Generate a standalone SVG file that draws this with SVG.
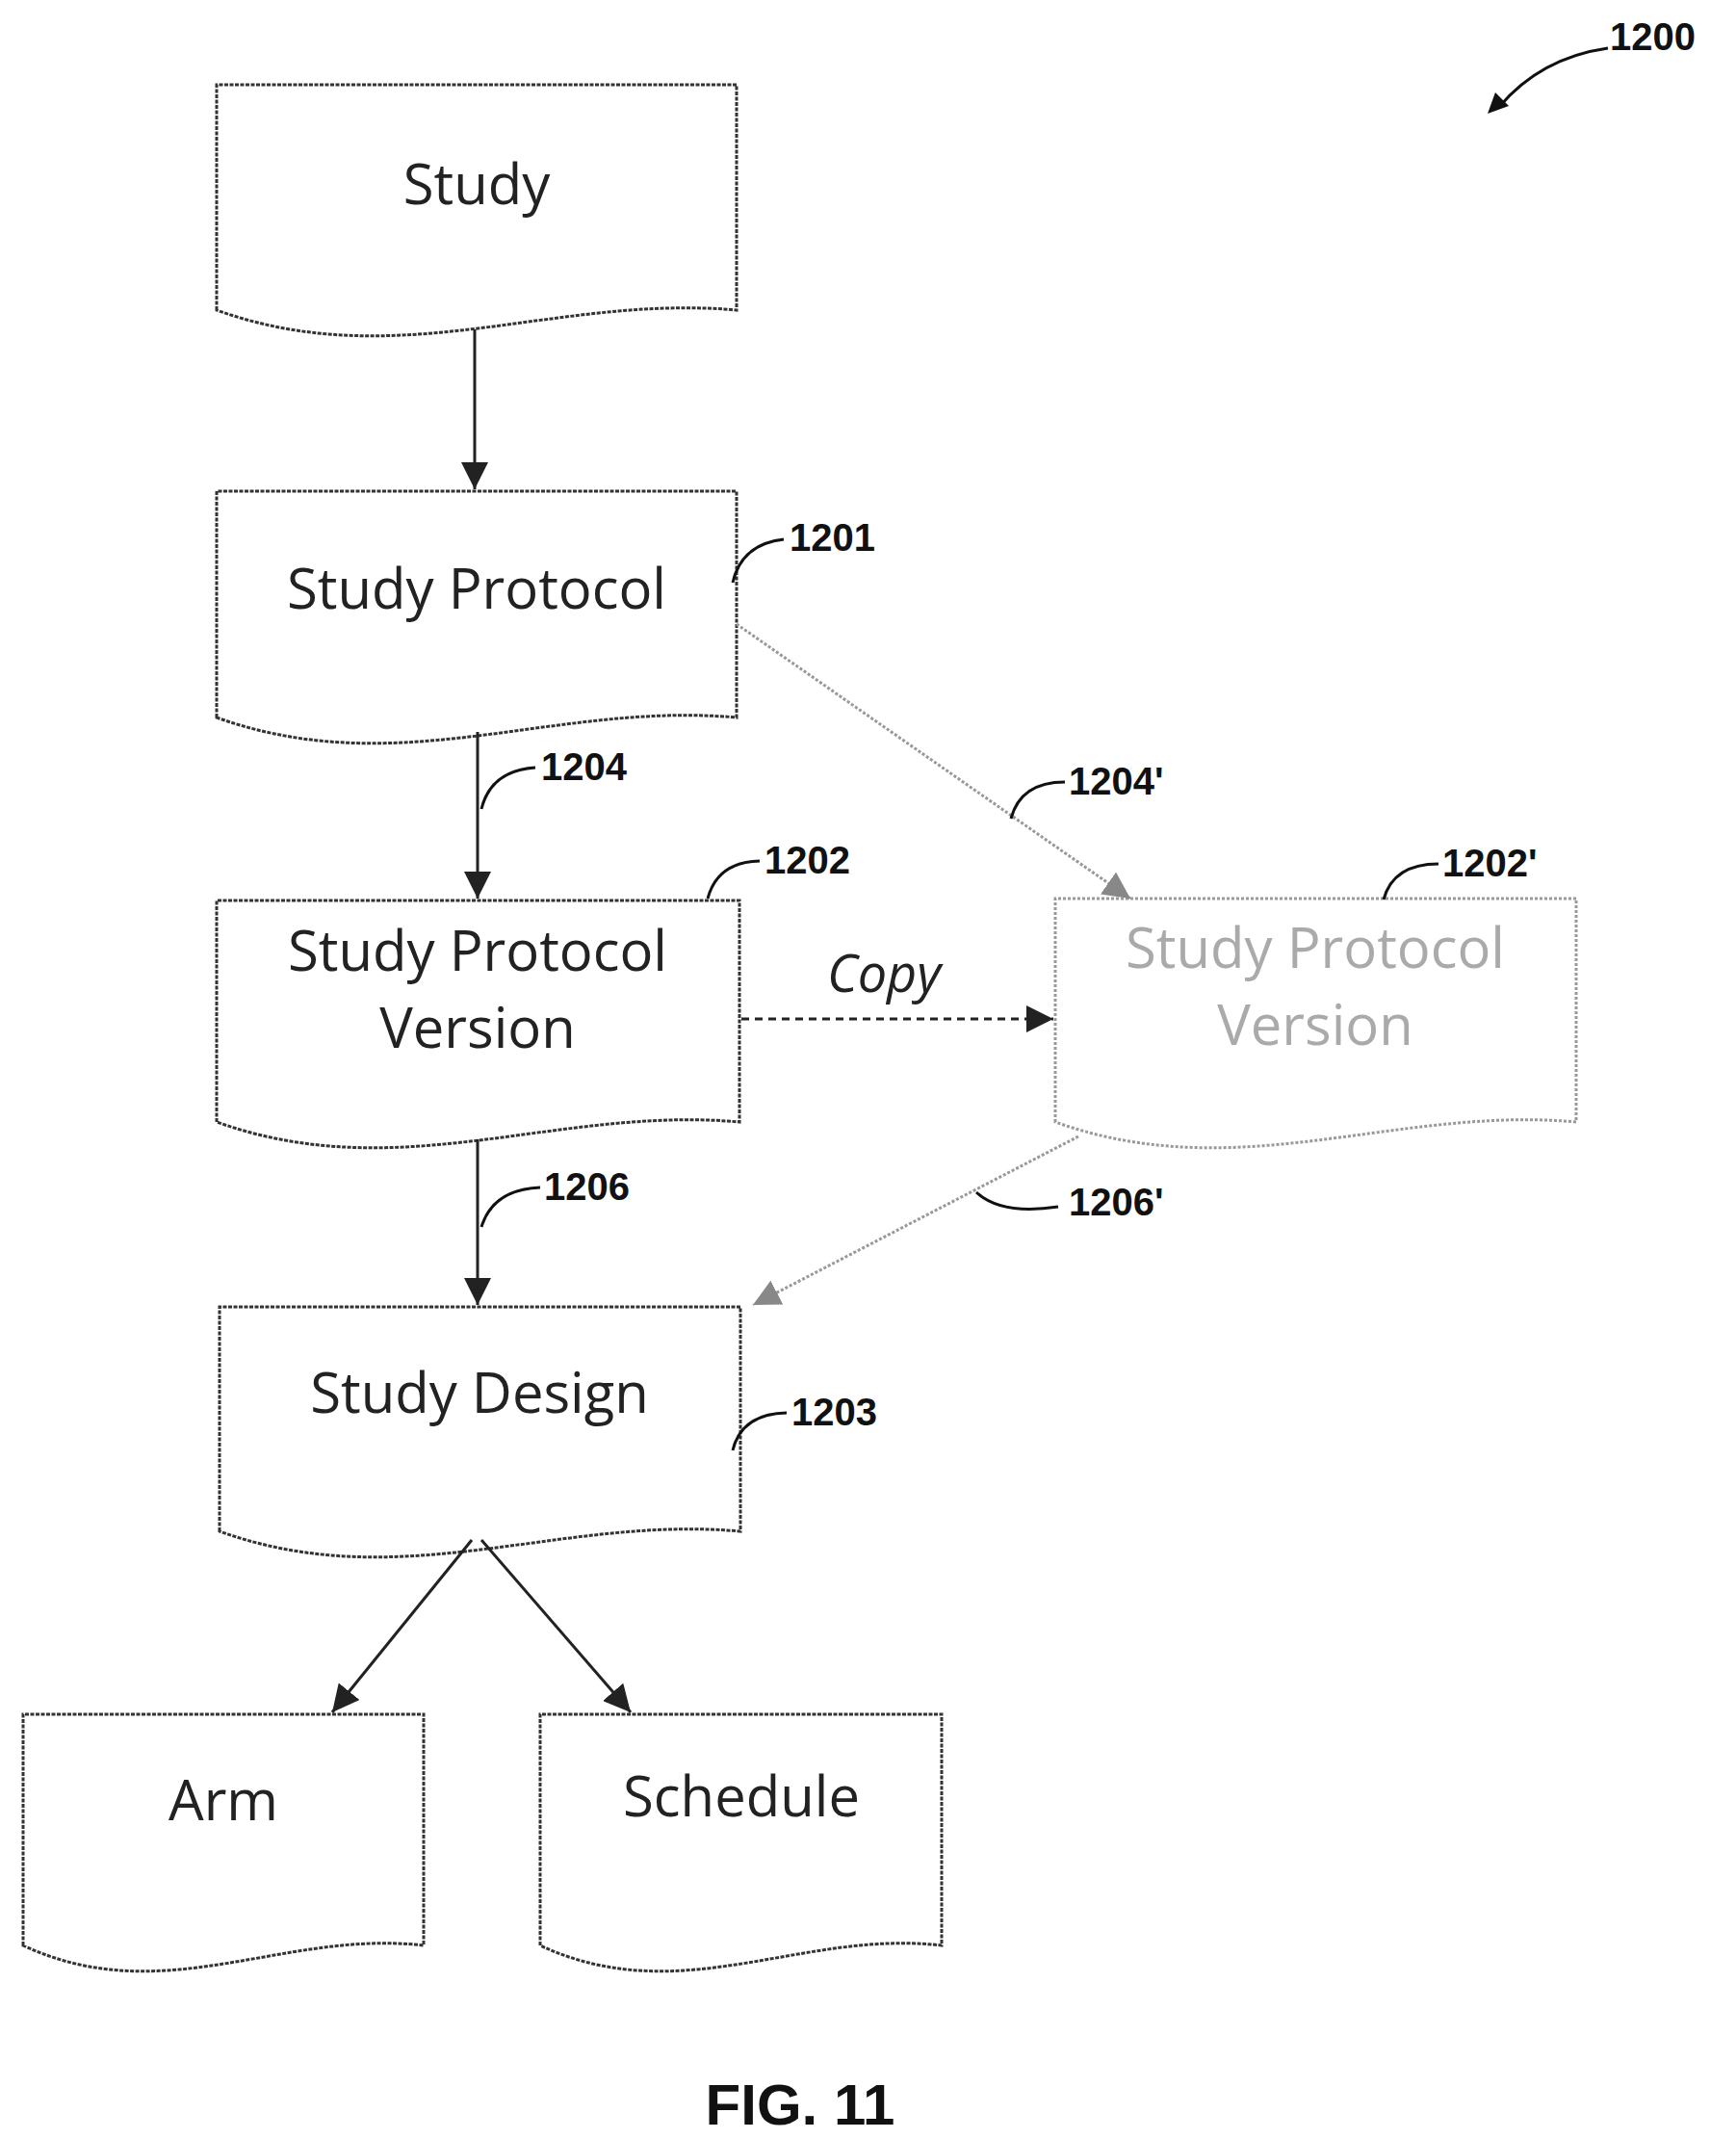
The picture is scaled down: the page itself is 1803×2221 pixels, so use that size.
<svg xmlns="http://www.w3.org/2000/svg" width="1803" height="2221" viewBox="0 0 1803 2221">
<style>
.doc{fill:#fff;stroke:#333;stroke-width:3;stroke-dasharray:4 1.5}
.ghost{fill:#fff;stroke:#999;stroke-width:3;stroke-dasharray:3 2}
.t{font-family:"Open Sans","Liberation Sans",sans-serif;font-size:58px;fill:#222;text-anchor:middle}
.tg{fill:#aaa}
.lbl{font-family:"Liberation Sans",Arial,sans-serif;font-weight:bold;font-size:40px;fill:#111}
.c{fill:none;stroke:#222;stroke-width:3}
.cg{fill:none;stroke:#999;stroke-width:3;stroke-dasharray:3 2}
.ld{fill:none;stroke:#111;stroke-width:3}
</style>
<defs>
<marker id="a" viewBox="0 0 10 10" refX="10" refY="5" markerWidth="28" markerHeight="28" markerUnits="userSpaceOnUse" orient="auto"><path d="M0,0 L10,5 L0,10 z" fill="#222"/></marker>
<marker id="ag" viewBox="0 0 10 10" refX="10" refY="5" markerWidth="28" markerHeight="28" markerUnits="userSpaceOnUse" orient="auto"><path d="M0,0 L10,5 L0,10 z" fill="#888"/></marker>
</defs>
<g id="n-study"><path class="doc" d="M225,322 V88 H765 V322 C576,305 414,390 225,322 Z"/><text class="t" x="495" y="212">Study</text></g>
<g id="n-protocol"><path class="doc" d="M225,745 V510 H765 V745 C576,728 414,813 225,745 Z"/><text class="t" x="495" y="632">Study Protocol</text></g>
<g id="n-spv"><path class="doc" d="M225,1165 V935 H768 V1165 C578,1148 415,1233 225,1165 Z"/><text class="t" x="496" y="1008">Study Protocol</text><text class="t" x="496" y="1088">Version</text></g>
<g id="n-spv2"><path class="ghost" d="M1096,1165 V933 H1637 V1165 C1448,1148 1286,1233 1096,1165 Z"/><text class="t tg" x="1366" y="1005">Study Protocol</text><text class="t tg" x="1366" y="1085">Version</text></g>
<g id="n-design"><path class="doc" d="M228,1590 V1357 H769 V1590 C580,1573 417,1658 228,1590 Z"/><text class="t" x="498" y="1467">Study Design</text></g>
<g id="n-arm"><path class="doc" d="M24,2020 V1780 H440 V2020 C294,2003 170,2088 24,2020 Z"/><text class="t" x="232" y="1890">Arm</text></g>
<g id="n-schedule"><path class="doc" d="M561,2020 V1780 H978 V2020 C832,2003 707,2088 561,2020 Z"/><text class="t" x="770" y="1886">Schedule</text></g>
<g id="connectors">
<line class="c" x1="493" y1="342" x2="493" y2="508" marker-end="url(#a)"/>
<line class="c" x1="496" y1="760" x2="496" y2="933" marker-end="url(#a)"/>
<line class="c" x1="496" y1="1183" x2="496" y2="1355" marker-end="url(#a)"/>
<line class="cg" x1="765" y1="648" x2="1174" y2="933" marker-end="url(#ag)"/>
<line class="c" x1="770" y1="1058" x2="1094" y2="1058" stroke-dasharray="8 6" marker-end="url(#a)"/>
<line class="cg" x1="1120" y1="1180" x2="782" y2="1355" marker-end="url(#ag)"/>
<line class="c" x1="490" y1="1599" x2="345" y2="1778" marker-end="url(#a)"/>
<line class="c" x1="500" y1="1599" x2="655" y2="1778" marker-end="url(#a)"/>
<text x="918" y="1030" font-family="'Open Sans','Liberation Sans',sans-serif" font-style="italic" font-size="54" fill="#222" text-anchor="middle">Copy</text>
</g>
<g id="labels">
<path class="ld" d="M1557,111 Q1600,60 1670,50"/><path d="M1545,118 l8,-22 l14,14 z" fill="#111"/>
<text class="lbl" x="1672" y="52">1200</text>
<path class="ld" d="M761,605 Q770,565 814,560"/><text class="lbl" x="820" y="572">1201</text>
<path class="ld" d="M500,840 Q510,800 556,797"/><text class="lbl" x="562" y="810">1204</text>
<path class="ld" d="M735,933 Q745,895 789,894"/><text class="lbl" x="794" y="907">1202</text>
<path class="ld" d="M1050,850 Q1060,812 1106,812"/><text class="lbl" x="1110" y="825">1204'</text>
<path class="ld" d="M1437,934 Q1447,897 1494,897"/><text class="lbl" x="1498" y="910">1202'</text>
<path class="ld" d="M500,1274 Q512,1235 561,1233"/><text class="lbl" x="565" y="1246">1206</text>
<path class="ld" d="M1014,1238 Q1040,1262 1099,1253"/><text class="lbl" x="1110" y="1262">1206'</text>
<path class="ld" d="M761,1506 Q770,1468 817,1467"/><text class="lbl" x="822" y="1480">1203</text>
<text x="831" y="2206" font-family="'Liberation Sans',Arial,sans-serif" font-weight="bold" font-size="60" fill="#111" text-anchor="middle">FIG. 11</text>
</g>
</svg>
